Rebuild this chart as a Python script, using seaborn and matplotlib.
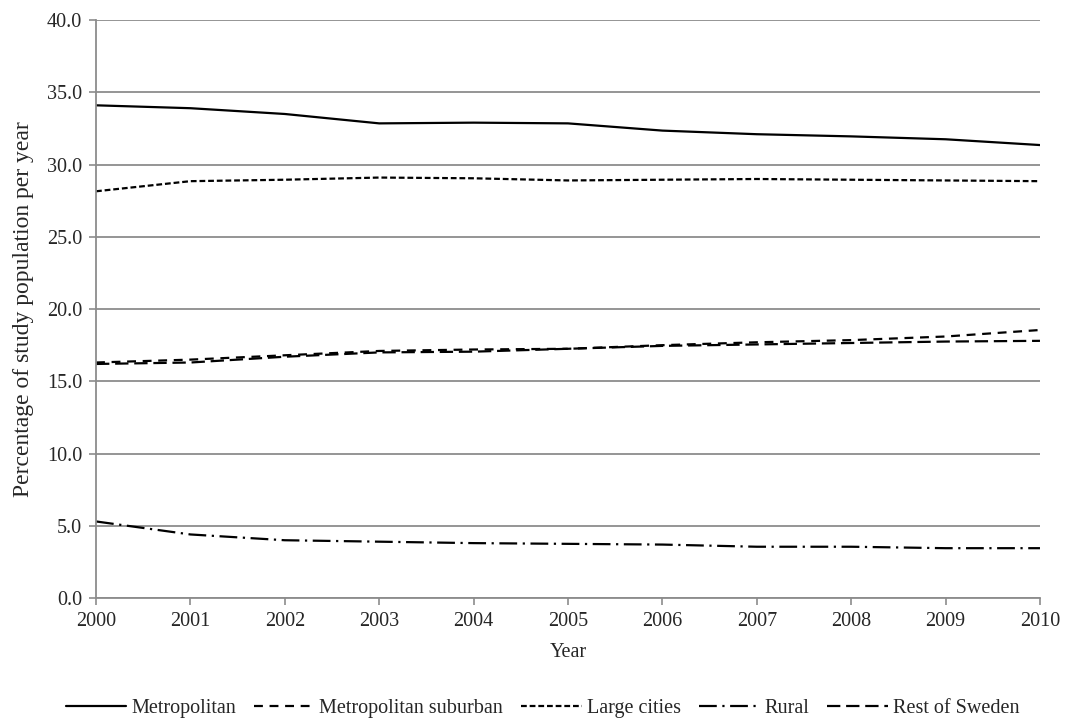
import matplotlib
matplotlib.use("Agg")
import matplotlib.pyplot as plt
import seaborn as sns
import pandas as pd

years = list(range(2000, 2011))
series_names = ["Metropolitan", "Metropolitan suburban", "Large cities", "Rural", "Rest of Sweden"]
metropolitan = [34.1, 33.9, 33.5, 32.85, 32.9, 32.85, 32.35, 32.1, 31.95, 31.75, 31.35]
metropolitan_suburban = [16.3, 16.5, 16.8, 17.1, 17.2, 17.25, 17.5, 17.7, 17.85, 18.1, 18.55]
large_cities = [28.15, 28.85, 28.95, 29.1, 29.05, 28.9, 28.95, 29.0, 28.95, 28.9, 28.85]
rural = [5.3, 4.4, 4.0, 3.9, 3.8, 3.75, 3.7, 3.55, 3.55, 3.45, 3.45]
rest_of_sweden = [16.2, 16.3, 16.7, 17.0, 17.05, 17.25, 17.45, 17.55, 17.65, 17.75, 17.8]
y_ticks = [0, 5, 10, 15, 20, 25, 30, 35, 40]

values = [metropolitan, metropolitan_suburban, large_cities, rural, rest_of_sweden]
df = pd.DataFrame({
    "Year": years * len(series_names),
    "Share": [v for vals in values for v in vals],
    "Region": [n for n in series_names for _ in years],
})

sns.set_style("white")
plt.rcParams["font.family"] = ["Liberation Serif", "DejaVu Serif"]
TICK_FS = 14.5
LEGEND_FS = 14.5

dash_map = {
    "Metropolitan": "",
    "Metropolitan suburban": (4, 3),
    "Large cities": (2.6, 1.3),
    "Rural": (8, 2.5, 1, 2.5),
    "Rest of Sweden": (6, 2.6),
}

fig = plt.figure(figsize=(10.85, 7.27), dpi=100)
ax = fig.add_axes([0.0885, 0.1774, 0.87, 0.795])

sns.lineplot(data=df, x="Year", y="Share", hue="Region", style="Region",
             palette=["black"] * 5, dashes=dash_map, linewidth=1.6,
             hue_order=series_names, style_order=series_names, ax=ax, legend=True)

ax.set_xlim(2000, 2010)
ax.set_ylim(0, 40)
ax.set_xticks(years)
ax.set_xticklabels([str(y) for y in years])
ax.set_yticks(y_ticks)
ax.set_yticklabels([f"{t:.1f}" for t in y_ticks])
ax.yaxis.grid(True, color="#8c8c8c", linewidth=1.3)
ax.xaxis.grid(False)
ax.set_axisbelow(True)
for side in ["top", "right"]:
    ax.spines[side].set_visible(False)
for side in ["left", "bottom"]:
    ax.spines[side].set_color("#8c8c8c")
    ax.spines[side].set_linewidth(1.3)
ax.tick_params(axis="both", which="both", direction="out", length=5, width=1.2,
               color="#8c8c8c", labelsize=TICK_FS, pad=5, bottom=True, left=True)
ax.set_xlabel("Year", fontsize=TICK_FS, labelpad=9)
ax.set_ylabel("Percentage of study population per year", fontsize=17, labelpad=9)

handles, labels = ax.get_legend_handles_labels()
ax.get_legend().remove()
fig.legend(handles, labels, loc="lower center", bbox_to_anchor=(0.5, -0.012),
           ncol=5, frameon=False, fontsize=LEGEND_FS, handlelength=3.0,
           handletextpad=0.25, columnspacing=0.9)

fig.savefig("out.png", dpi=100)
